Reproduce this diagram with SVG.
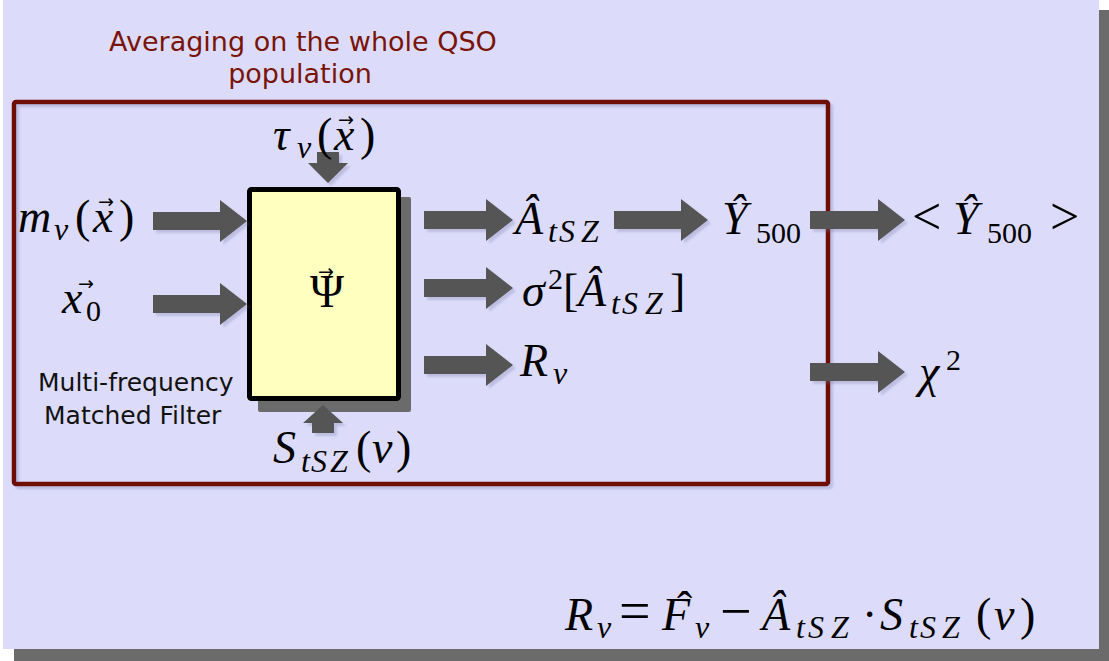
<svg xmlns="http://www.w3.org/2000/svg" width="1109" height="661" viewBox="0 0 1109 661">
<defs>
<style>
.title{font-family:"DejaVu Sans",sans-serif;font-size:27px;fill:#7A1408;text-anchor:middle}
.lbl{font-family:"DejaVu Sans",sans-serif;font-size:25px;fill:#111}
.m{font-family:"Liberation Serif",serif;font-style:italic;font-size:46px;fill:#000}
.u{font-style:normal}
.s{font-size:32px}
.d{font-size:30px;font-style:normal}
.v{font-family:"DejaVu Sans",sans-serif;font-style:normal;font-size:19px}
.arrow{fill:#555555}
</style>
<filter id="sh" x="-10%" y="-10%" width="130%" height="130%">
<feDropShadow dx="3" dy="3" stdDeviation="1.2" flood-color="#7070A0" flood-opacity="0.28"/>
</filter>
</defs>
<rect x="0" y="0" width="1109" height="661" fill="#FFFFFF"/>
<rect x="14" y="10" width="1095" height="651" fill="#6B6B6B"/>
<rect x="3" y="0" width="1096" height="649" fill="#DCDCFA"/>

<g id="group-box">
<rect x="14" y="102" width="814" height="382" fill="none" stroke="#6E0B00" stroke-width="4.5" rx="2" filter="url(#sh)"/>
<text class="title" x="303" y="51">Averaging on the whole QSO</text>
<text class="title" x="300" y="83">population</text>
</g>

<g id="filter-node">
<rect x="258" y="197" width="153" height="215" fill="#6B6B6B" rx="2"/>
<rect x="249.5" y="189.5" width="149" height="209" fill="#FFFFC0" stroke="#000" stroke-width="5" rx="2"/>
<text class="m u" font-size="37"><tspan x="310" y="307">Ψ</tspan><tspan class="v" x="318" y="278">→</tspan></text>
<text class="lbl" x="38" y="391">Multi-frequency</text>
<text class="lbl" x="44" y="424">Matched  Filter</text>
</g>

<g id="connectors" filter="url(#sh)">
<path class="arrow" d="M153,212 H220 V200 L247,221 L220,242 V230 H153 Z"/>
<path class="arrow" d="M153,295 H220 V283 L247,304 L220,325 V313 H153 Z"/>
<path class="arrow" d="M424,211 H486 V199 L513,220 L486,241 V229 H424 Z"/>
<path class="arrow" d="M424,279 H486 V267 L513,288 L486,309 V297 H424 Z"/>
<path class="arrow" d="M424,356 H486 V344 L513,365 L486,386 V374 H424 Z"/>
<path class="arrow" d="M614,211 H681 V199 L708,220 L681,241 V229 H614 Z"/>
<path class="arrow" d="M810,211 H878 V199 L905,220 L878,241 V229 H810 Z"/>
<path class="arrow" d="M810,363 H878 V351 L905,372 L878,393 V381 H810 Z"/>
<path class="arrow" d="M317,152 H339 V163 H348 L328,183 L308,163 H317 Z"/>
<path class="arrow" d="M312,433 H334 V423 H343 L323,405 L303,423 H312 Z"/>
</g>

<g id="tau-input">
<text class="m" y="150"><tspan x="273">τ</tspan><tspan class="s" x="297" y="158">ν</tspan><tspan class="u" x="317" y="150">(</tspan><tspan x="334">x</tspan><tspan class="u" x="360">)</tspan><tspan class="v" x="338" y="126">→</tspan></text>
</g>

<g id="m-input">
<text class="m" y="232"><tspan x="18">m</tspan><tspan class="s" x="54" y="240">ν</tspan><tspan class="u" x="75" y="232">(</tspan><tspan x="93">x</tspan><tspan class="u" x="119">)</tspan><tspan class="v" x="98" y="208">→</tspan></text>
</g>

<g id="x0-input">
<text class="m" y="313"><tspan x="62">x</tspan><tspan class="d" x="86" y="321">0</tspan><tspan class="v" x="78" y="290">→</tspan></text>
</g>

<g id="s-input">
<text class="m" y="463"><tspan x="273">S</tspan><tspan class="s" x="301" y="472">t</tspan><tspan class="s" x="311">S</tspan><tspan class="s" x="330">Z</tspan><tspan class="u" x="356" y="463">(</tspan><tspan x="372">ν</tspan><tspan class="u" x="396">)</tspan></text>
</g>

<g id="a-output">
<text class="m" y="234"><tspan x="515">Â</tspan><tspan class="s" x="548" y="242">t</tspan><tspan class="s" x="559">S</tspan><tspan class="s" x="581">Z</tspan></text>
</g>

<g id="sigma-output">
<text class="m" y="306"><tspan x="522">σ</tspan><tspan class="d" x="548" y="289" font-size="29">2</tspan><tspan class="u" x="563" y="306">[</tspan><tspan x="578">Â</tspan><tspan class="s" x="611" y="314">t</tspan><tspan class="s" x="622">S</tspan><tspan class="s" x="645">Z</tspan><tspan class="u" x="670" y="306">]</tspan></text>
</g>

<g id="r-output">
<text class="m" y="376"><tspan x="520">R</tspan><tspan class="s" x="553" y="384">ν</tspan></text>
</g>

<g id="y-output">
<text class="m" y="234"><tspan x="722">Ŷ</tspan><tspan class="d" x="756" y="243">500</tspan></text>
</g>

<g id="ymean-output">
<text class="m" y="234"><tspan class="u" x="912" font-size="52">&lt;</tspan><tspan x="953">Ŷ</tspan><tspan class="d" x="987" y="243">500</tspan><tspan class="u" x="1050" y="234" font-size="52">&gt;</tspan></text>
</g>

<g id="chi-output">
<text class="m" y="387"><tspan x="919">χ</tspan><tspan class="d" x="946" y="370" font-size="29">2</tspan></text>
</g>

<g id="formula">
<text class="m" y="630"><tspan x="565">R</tspan><tspan class="s" x="597" y="638">ν</tspan><tspan class="u" x="619" y="630" font-size="56">=</tspan><tspan x="662">F</tspan><tspan class="s" x="695" y="638">ν</tspan><tspan class="u" x="720" y="630" font-size="56">−</tspan><tspan x="762">Â</tspan><tspan class="s" x="796" y="638">t</tspan><tspan class="s" x="808">S</tspan><tspan class="s" x="831">Z</tspan><tspan class="u" x="862" y="630">·</tspan><tspan x="880">S</tspan><tspan class="s" x="909" y="638">t</tspan><tspan class="s" x="920">S</tspan><tspan class="s" x="942">Z</tspan><tspan class="u" x="976" y="630">(</tspan><tspan x="994">ν</tspan><tspan class="u" x="1020">)</tspan><tspan class="u" x="677" y="624">ˆ</tspan></text>
</g>
</svg>
